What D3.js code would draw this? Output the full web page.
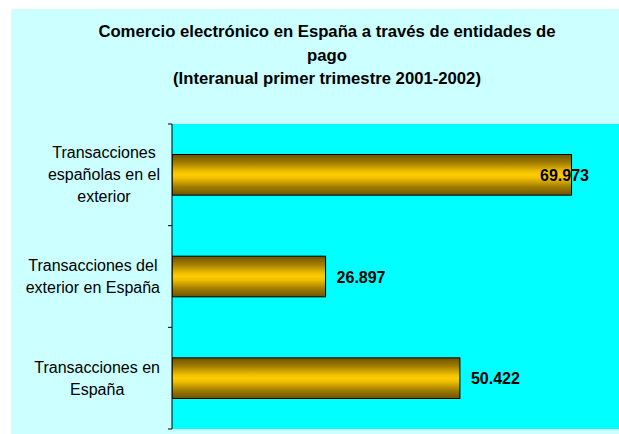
<!DOCTYPE html>
<html><head><meta charset="utf-8">
<script src="https://cdn.jsdelivr.net/npm/d3@7"></script>
<style>body{margin:0;background:#fff}svg{display:block}</style>
</head><body>
<script>
const categories = [
  ["Transacciones", "españolas en el", "exterior"],
  ["Transacciones del", "exterior en España"],
  ["Transacciones en", "España"]
];
const values = [69.973, 26.897, 50.422];
const valueLabels = ["69.973", "26.897", "50.422"];
const titleLines = ["Comercio electrónico en España a través de entidades de", "pago", "(Interanual primer trimestre 2001-2002)"];

(function () {
const W = 619, H = 434;
const svg = d3.select("body").append("svg").attr("width", W).attr("height", H);
const font = "Liberation Sans, Arial, sans-serif";

const defs = svg.append("defs");
const grad = defs.append("linearGradient").attr("id", "gold").attr("x1", 0).attr("y1", 0).attr("x2", 0).attr("y2", 1);
[[0,"#6e5400"],[0.2,"#a07c00"],[0.42,"#f0c000"],[0.5,"#ffcc00"],[0.58,"#f0c000"],[0.8,"#a07c00"],[1,"#6e5400"]]
  .forEach(([o,c]) => grad.append("stop").attr("offset", o).attr("stop-color", c));
const clip = defs.append("clipPath").attr("id", "pc");

svg.append("rect").attr("x", 11).attr("y", 9).attr("width", W - 11).attr("height", H - 9).attr("fill", "#ccffff");

const pLeft = 172, pTop = 124, pBottom = 429;
clip.append("rect").attr("x", pLeft).attr("y", 0).attr("width", W - pLeft).attr("height", H);

const x = d3.scaleLinear().domain([0, 80]).range([pLeft, pLeft + 80 * 5.71]);
const y = d3.scaleBand().domain(d3.range(values.length)).range([pTop, pBottom]).paddingInner(0.6).paddingOuter(0.3);
const yTicks = d3.scaleBand().domain(d3.range(values.length)).range([pTop, pBottom]);

svg.append("rect").attr("x", pLeft).attr("y", pTop).attr("width", W - pLeft).attr("height", pBottom - pTop).attr("fill", "#00ffff");

svg.append("g").attr("clip-path", "url(#pc)").selectAll("rect.bar").data(values).join("rect")
  .attr("x", x(0)).attr("y", (d, i) => y(i)).attr("width", d => x(d) - x(0)).attr("height", y.bandwidth())
  .attr("fill", "url(#gold)").attr("stroke", "#000").attr("stroke-width", 1);

const ax = svg.append("g");
ax.append("line").attr("x1", pLeft).attr("x2", pLeft).attr("y1", pTop).attr("y2", pBottom).attr("stroke", "#000");
const tickYs = d3.range(values.length).map(i => yTicks(i)).concat([pBottom]);
ax.selectAll("line.t").data(tickYs).join("line").attr("class", "t")
  .attr("x1", pLeft - 4).attr("x2", pLeft).attr("y1", d => d).attr("y2", d => d).attr("stroke", "#000");

const lh = 22;
categories.forEach((lines, i) => {
  const cy = yTicks(i) + yTicks.bandwidth() / 2;
  const t = svg.append("text").attr("font-family", font).attr("font-size", 16).attr("fill", "#000").attr("text-anchor", "middle");
  lines.forEach((l, j) => t.append("tspan").attr("x", 0).attr("y", cy + (j - (lines.length - 1) / 2) * lh + 5.5).text(l));
  const wmax = d3.max(t.selectAll("tspan").nodes(), n => n.getComputedTextLength());
  t.selectAll("tspan").attr("x", 160 - wmax / 2);
});

svg.selectAll("text.v").data(values).join("text").attr("class", "v")
  .attr("x", d => Math.min(x(d) + 11, 540)).attr("y", (d, i) => y(i) + y.bandwidth() / 2 + 6)
  .attr("font-family", font).attr("font-size", 16).attr("font-weight", "bold").attr("fill", "#000")
  .text((d, i) => valueLabels[i]);

const tt = svg.append("text").attr("font-family", font).attr("font-size", 16.7).attr("font-weight", "bold").attr("text-anchor", "middle").attr("fill", "#000");
[37, 61, 84].forEach((yy, j) => tt.append("tspan").attr("x", 327).attr("y", yy).text(titleLines[j]));
})();
</script>
</body></html>
